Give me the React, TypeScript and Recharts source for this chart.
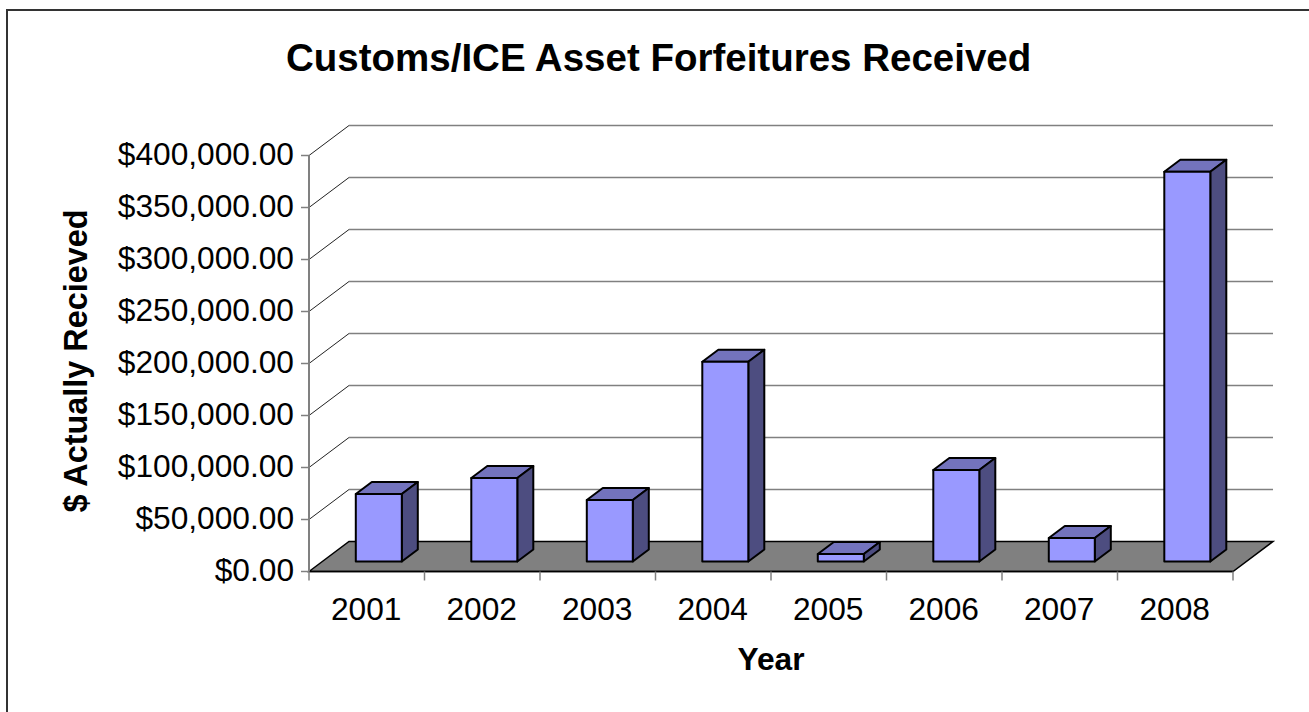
import React from 'react';
import { BarChart, Bar, XAxis, YAxis, CartesianGrid } from 'recharts';

const years = ['2001', '2002', '2003', '2004', '2005', '2006', '2007', '2008'];
const received = [64900, 80300, 59100, 192100, 7200, 88000, 22600, 374800];
const valueTicks = [0, 50000, 100000, 150000, 200000, 250000, 300000, 350000, 400000];

const chartData = years.map((year, i) => ({ year, received: received[i] }));

const FONT = '"Liberation Sans", Arial, sans-serif';

// wall depth of the fake 3D box, and depth of each bar
const WALL_DX = 40;
const WALL_DY = 30;
const BAR_DX = 16;
const BAR_DY = 12;
const X_TICK_LEN = 9;
const X_TICK_GAP = 14;

const money = (value: number) =>
  `$${value.toLocaleString('en-US', { minimumFractionDigits: 2, maximumFractionDigits: 2 })}`;

const GridLine = (props: any) => {
  const { x1, x2, y1 } = props;
  if (Math.abs(y1 - 571.5) < 1) {
    const floor = `${x1},${y1} ${x1 + WALL_DX},${y1 - WALL_DY} ${x2 + WALL_DX},${y1 - WALL_DY} ${x2},${y1}`;
    return <polygon points={floor} fill="#808080" stroke="#000" strokeWidth={1.5} />;
  }
  return (
    <g fill="none">
      <line x1={x1} y1={y1} x2={x1 + WALL_DX} y2={y1 - WALL_DY} stroke="#222" strokeWidth={1} />
      <line x1={x1 + WALL_DX} y1={y1 - WALL_DY} x2={x2 + WALL_DX} y2={y1 - WALL_DY} stroke="#808080" strokeWidth={1.5} />
    </g>
  );
};

// ticks sit between the categories, not under the labels
const YearTick = (props: any) => {
  const { x, y, payload, index, width, visibleTicksCount } = props;
  const half = width / visibleTicksCount / 2;
  const top = y - X_TICK_LEN - X_TICK_GAP;
  const bottom = y - X_TICK_GAP;
  const mark = { stroke: '#808080', strokeWidth: 1.5 };
  return (
    <g>
      {index === 0 && <line x1={x - half} x2={x - half} y1={top} y2={bottom} {...mark} />}
      <line x1={x + half} x2={x + half} y1={top} y2={bottom} {...mark} />
      <text x={x - 0.5} y={y} dy="0.82em" textAnchor="middle" fill="#000" fontSize={31.7}>
        {payload.value}
      </text>
    </g>
  );
};

const Bar3D = (props: any) => {
  const { x, y, width, height } = props;
  // bars stand a little way in from the front edge of the floor
  const left = x + 11.8;
  const top = y - 10;
  const right = left + width;
  const bottom = top + height;
  const line = { stroke: '#000', strokeWidth: 2, strokeLinejoin: 'round' as const };
  return (
    <g>
      <polygon
        points={`${left},${top} ${left + BAR_DX},${top - BAR_DY} ${right + BAR_DX},${top - BAR_DY} ${right},${top}`}
        fill="#7373BD"
        {...line}
      />
      <polygon
        points={`${right},${top} ${right + BAR_DX},${top - BAR_DY} ${right + BAR_DX},${bottom - BAR_DY} ${right},${bottom}`}
        fill="#4D4D80"
        {...line}
      />
      <rect x={left} y={top} width={width} height={height} fill="#9999FF" {...line} />
    </g>
  );
};

const App = () => (
  <div style={{ position: 'absolute', left: 0, top: 0, width: 1309, height: 712, background: '#fff' }}>
    {/* only the left and top of the outer frame are in the picture */}
    <div
      style={{
        position: 'absolute',
        left: 6,
        top: 9,
        width: 1303,
        height: 703,
        borderLeft: '2px solid #333',
        borderTop: '2px solid #333',
        boxSizing: 'border-box',
      }}
    />
    <div
      style={{
        position: 'absolute',
        left: 286,
        top: 36,
        fontFamily: FONT,
        fontWeight: 'bold',
        fontSize: 38.5,
        lineHeight: '44px',
        whiteSpace: 'nowrap',
        color: '#000',
      }}
    >
      Customs/ICE Asset Forfeitures Received
    </div>
    <BarChart
      width={1309}
      height={712}
      data={chartData}
      margin={{ top: 155.5, right: 76, bottom: 0, left: 0 }}
      style={{ position: 'absolute', left: 0, top: 0, fontFamily: FONT }}
    >
      <CartesianGrid vertical={false} horizontal={<GridLine />} />
      <XAxis
        dataKey="year"
        height={140.5}
        tickMargin={X_TICK_GAP}
        tick={<YearTick />}
        interval={0}
        tickLine={false}
        axisLine={{ stroke: '#000', strokeWidth: 1.5 }}
        tickSize={X_TICK_LEN}
        label={{ value: 'Year', position: 'insideTop', dy: 71, fill: '#000', fontSize: 31.7, fontWeight: 'bold' }}
      />
      <YAxis
        domain={[0, 400000]}
        ticks={valueTicks}
        width={309}
        tickFormatter={money}
        tick={{ fill: '#000', fontSize: 31.7, dy: -2 }}
        stroke="#808080"
        tickLine={{ stroke: '#808080', strokeWidth: 1.5 }}
        axisLine={{ stroke: '#808080', strokeWidth: 2 }}
        tickSize={8}
        tickMargin={7}
        label={{
          value: '$ Actually Recieved',
          angle: -90,
          position: 'insideLeft',
          dx: 70,
          dy: 149,
          fill: '#000',
          fontSize: 32.4,
          fontWeight: 'bold',
        }}
      />
      <Bar dataKey="received" barSize={46} shape={<Bar3D />} isAnimationActive={false} />
    </BarChart>
  </div>
);

export default App;
